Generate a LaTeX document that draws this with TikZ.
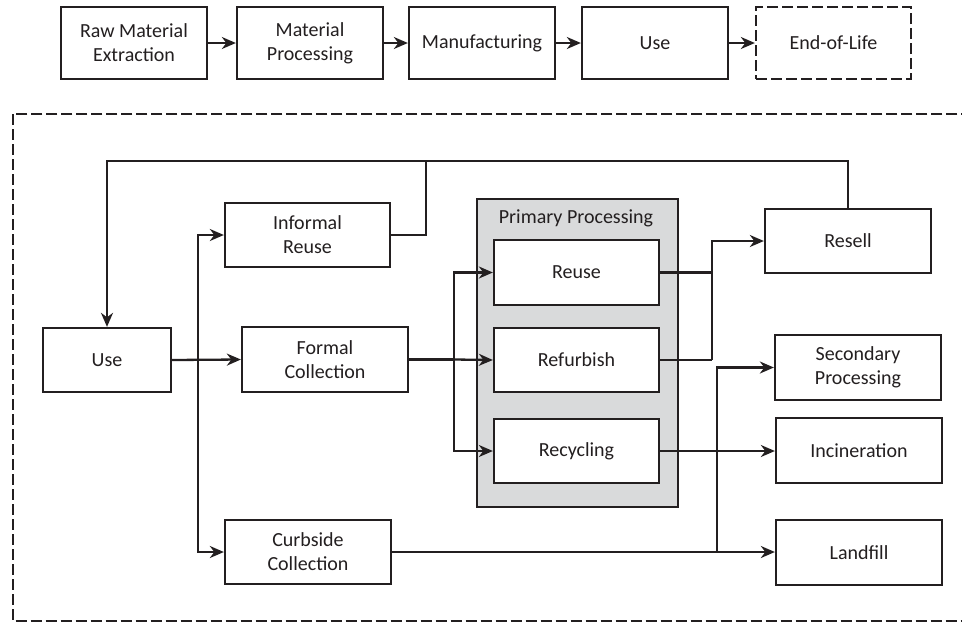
\documentclass[tikz,border=0pt]{standalone}
\usepackage{fontspec}
\setmainfont{Carlito}
\usetikzlibrary{arrows.meta}
\definecolor{ink}{HTML}{231F20}
\definecolor{panel}{HTML}{D9DADB}
\tikzset{
  box/.style={draw=ink, line width=2.3pt, fill=white, inner sep=0pt, align=center,
    text=ink, font=\fontsize{20}{24}\selectfont},
  arr/.style={draw=ink, line width=2.3pt, -{Stealth[length=14pt,width=12pt,inset=4.5pt]}},
  link/.style={draw=ink, line width=2.3pt},
  dashbox/.style={dash pattern=on 11pt off 4pt}
}
\begin{document}
\begin{tikzpicture}[x=1pt,y=-1pt]
\clip (0,0) rectangle (962,622);
\fill[white] (0,0) rectangle (962,622);

% life-cycle stages
\node[box, minimum width=146pt, minimum height=72pt] (rme) at (134,43) {Raw Material\\Extraction};
\node[box, minimum width=146pt, minimum height=72pt] (mp) at (310,43) {Material\\Processing};
\node[box, minimum width=146pt, minimum height=72pt] (man) at (482,43) {Manufacturing};
\node[box, minimum width=146pt, minimum height=72pt] (tuse) at (655,43) {Use};
\node[box, dashbox, minimum width=155pt, minimum height=72pt] (eol) at (833.5,43) {End-of-Life};
\draw[arr] (rme) -- (mp);
\draw[arr] (mp) -- (man);
\draw[arr] (man) -- (tuse);
\draw[arr] (tuse) -- (eol);

% end-of-life frame
\draw[ink, line width=2.3pt, dashbox] (12.7,114) rectangle (968,621);

% primary processing panel
\draw[ink, line width=2.3pt, fill=panel] (477,199) rectangle (678,507);
\node[text=ink, font=\fontsize{20}{24}\selectfont] (pptitle) at (576,218) {Primary Processing};

% end-of-life nodes
\node[box, minimum width=128pt, minimum height=64pt] (use) at (107,360) {Use};
\node[box, minimum width=165pt, minimum height=64pt] (inf) at (307.5,235) {Informal\\Reuse};
\node[box, minimum width=166pt, minimum height=65pt] (form) at (325,359.5) {Formal\\Collection};
\node[box, minimum width=166pt, minimum height=64pt] (curb) at (308,552) {Curbside\\Collection};
\node[box, minimum width=165pt, minimum height=65pt] (reuse) at (576.5,272.5) {Reuse};
\node[box, minimum width=165pt, minimum height=64pt] (refurb) at (576.5,360) {Refurbish};
\node[box, minimum width=165pt, minimum height=64pt] (recyc) at (576.5,451) {Recycling};
\node[box, minimum width=166pt, minimum height=64pt] (resell) at (848,241) {Resell};
\node[box, minimum width=166pt, minimum height=65pt] (sec) at (858,367.5) {Secondary\\Processing};
\node[box, minimum width=166pt, minimum height=65pt] (inc) at (859,450.5) {Incineration};
\node[box, minimum width=166pt, minimum height=65pt] (land) at (859,552.5) {Landfill};

% junction points
\coordinate (top) at (0,161);
\coordinate (jinf) at (426,235);
\coordinate (juse) at (198,360);
\coordinate (jform) at (454,359.5);
\coordinate (jres) at (712,241);
\coordinate (jland) at (717,552);

% return loop back to use
\draw[link] (inf.east) -- (jinf) -- (jinf |- top);
\draw[arr] (resell.north) -- (resell.north |- top) -- (use.north |- top) -- (use.north);

% collection routes
\draw[arr] (use.east) -- (form.west);
\draw[arr] (juse) |- (inf.west);
\draw[arr] (juse) |- (curb.west);

% into primary processing
\draw[link] (form.east) -- (jform);
\draw[arr] (jform) |- (reuse.west);
\draw[arr] (jform) -- (refurb.west);
\draw[arr] (jform) |- (recyc.west);

% out of primary processing
\draw[link] (reuse.east) -- (reuse.east -| jres);
\draw[link] (refurb.east) -- (refurb.east -| jres);
\draw[arr] (refurb.east -| jres) -- (jres) -- (resell.west);
\draw[arr] (recyc.east) -- (recyc.east -| inc.west);
\draw[arr] (curb.east) -- (curb.east -| land.west);
\draw[arr] (jland) |- (sec.west);
\end{tikzpicture}
\end{document}
